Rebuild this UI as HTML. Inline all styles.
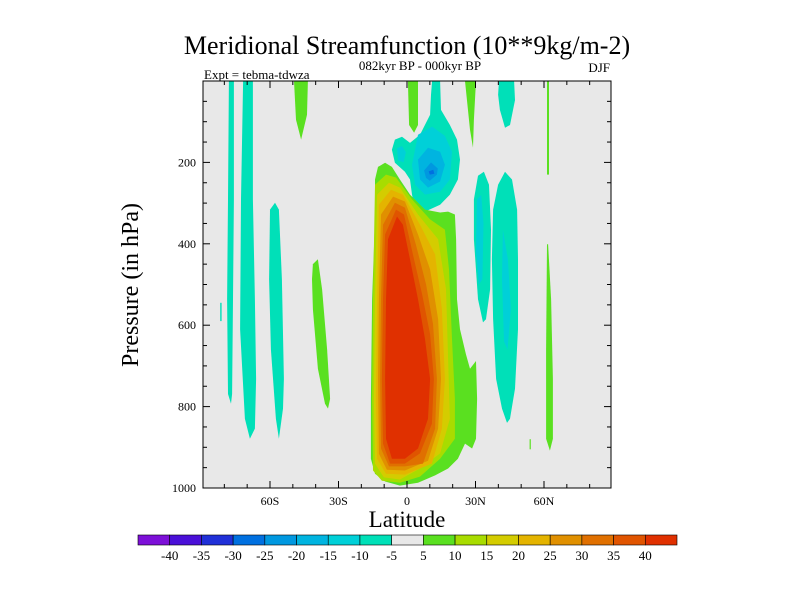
<!DOCTYPE html>
<html><head><meta charset="utf-8"><style>
html,body{margin:0;padding:0;background:#fff;}
svg{display:block;font-family:"Liberation Serif",serif;}
</style></head><body>
<svg id="chart" width="800" height="600" viewBox="0 0 800 600">
<text x="407" y="54" font-size="26" text-anchor="middle">Meridional Streamfunction (10**9kg/m-2)</text>
<text x="420" y="70" font-size="13" text-anchor="middle">082kyr BP - 000kyr BP</text>
<text x="204" y="79" font-size="13">Expt = tebma-tdwza</text>
<text x="610" y="72" font-size="13" text-anchor="end">DJF</text>
<rect x="203" y="81" width="408" height="407" fill="#e8e8e8"/>
<g id="contours"></g>
<g id="axes"></g>
<rect x="203" y="81" width="408" height="407" fill="none" stroke="#000" stroke-width="1"/>
<text x="407" y="527" font-size="23" text-anchor="middle">Latitude</text>
<text transform="translate(138,285) rotate(-90)" font-size="24" text-anchor="middle">Pressure (in hPa)</text>
<g id="colorbar"></g>
</svg>
<script>
const levelColors = ["#7d10d8","#4a10d8","#2030d8","#0070e0","#0098e0","#00b4e0","#00d0d8","#00e0b8","#e8e8e8","#5ae020","#a8dc00","#d4cc00","#e4b400","#e09000","#e07000","#e05400","#e03000"];
const colorbarLabels = ["-40","-35","-30","-25","-20","-15","-10","-5","5","10","15","20","25","30","35","40"];
const yTickValues = [200,400,600,800,1000];
const xTickValues = [-60,-30,0,30,60];
const xTickLabels = ["60S","30S","0","30N","60N"];
// contour regions: [level index, "lat,pressure ..."]
const contourLevels = [7,7,7,7,9,9,9,9,7,9,9,9,7,6,7,6,7,6,6,5,4,3,9,10,11,12,13,14,15,16];
const contourShapes = [
"-78,0 -75.8,0 -75.8,291 -76.2,536 -76.6,769 -77.1,793 -78.4,769 -78.8,536 -78.4,291",
"-81.8,545 -81.2,545 -81.2,590 -81.8,590",
"-71.8,0 -67.5,0 -67.5,291 -66.6,536 -66.1,732 -66.6,854 -68.8,879 -71,830 -73.1,610 -72.7,291",
"-60,316 -57.8,299 -56.1,316 -54.8,487 -53.9,732 -54.3,805 -56.1,879 -57.4,830 -59.6,659 -60.4,487",
"-49.5,0 -43.4,0 -43.8,83 -46.4,144 -48.6,95",
"-41.2,450 -39,438 -37.2,512 -35,659 -33.7,781 -34.6,805 -35.9,793 -39,707 -41.2,561 -41.6,487",
"0.4,0 4.8,0 4.8,108 3.1,127 0.9,108",
"25.4,0 30.2,0 29.3,95 28.9,164 27.6,120",
"40.3,0 46.9,0 47.3,47 45.1,108 42.9,115 40.7,71 39.9,34",
"61.3,0 62.2,0 62.2,230 61.3,230",
"61.3,401 61.8,401 63.1,536 63.9,732 63.9,879 62.6,908 60.9,879 60.9,659",
"53.7,880 54.2,880 54.2,905 53.7,905",
"31.1,233 33.7,223 35.9,255 36.8,365 36.4,512 34.6,585 33.3,593 31.1,536 29.3,389 29.3,291",
"30.6,291 32.5,280 33.5,350 33,487 31.5,500 30.2,420",
"42.9,223 46,242 48.2,316 48.6,438 48.6,610 47.3,756 45.1,830 43.8,840 41.6,805 39,732 37.7,585 37.2,438 37.7,316 39.9,255",
"42,365 44.2,438 45.5,560 44,660 42.5,640 41.6,487",
"11,0 14.5,0 14.9,71 18.8,108 21.9,144 23.2,193 22.3,242 18.8,279 14.5,304 7.9,321 3.5,316 2.2,279 1.3,242 -0.9,223 -5.3,201 -6.6,169 -5.3,144 -2.2,137 1.3,152 5.7,132 10.1,83 10.5,34",
"4.8,132 11,112 16.6,135 19.7,174 18.8,242 14.5,272 7.9,279 3.5,255 2.2,206",
"-4.4,165 -2.2,160 -0.5,175 -1.5,200 -3.9,195",
"4.8,193 9.2,164 14.5,174 16.6,206 14.5,247 9.2,262 5.7,242",
"7.5,220 10.5,200 13.5,215 13.1,230 10,245 8.3,238",
"9.5,222 11.5,218 12,228 10,230",
"-12.7,211 -9.6,201 -6.6,211 -3.1,242 1.3,279 7.9,316 14.5,323 18,321 21,328 21.5,389 21.9,536 23.2,610 25.8,671 27.6,707 30.2,688 30.7,781 30.2,879 28.5,903 25.4,891 22.3,928 18,952 12.3,969 4.8,987 -3.1,994 -9.6,984 -14,965 -15.8,928 -15.8,781 -15.3,536 -14,340 -14,242",
"-9.2,230 -4.8,237 2.2,291 10.1,340 16.6,365 18.4,463 19.7,634 21,781 21,879 14.5,928 5.7,972 -3.1,987 -11,982 -14.9,957 -15.3,781 -14.9,536 -14,255",
"-7.9,250 -3.1,262 4.8,328 13.6,389 17.1,511 18,683 18.8,830 14.5,915 5.7,952 -3.1,979 -10.1,974 -14,940 -14.5,781 -14,536 -13.1,279",
"-7,267 -1.8,279 5.7,353 12.3,426 15.3,561 16.6,732 15.3,854 10.9,940 -0.9,967 -9.2,965 -13.1,928 -13.6,781 -13.1,536 -12.3,304",
"-6.1,284 -0.9,296 4.8,377 10.1,463 13.6,585 14.9,732 13.6,854 9.2,933 -0.9,957 -8.8,955 -12.3,916 -12.7,732 -12.3,536 -11.4,328",
"-5.3,299 -0.9,311 3.9,402 8.3,499 11.4,597 13.1,732 12.3,854 7,940 -0.9,947 -7.9,947 -11.4,903 -11.8,732 -11.4,536 -10.5,353",
"-4.8,316 -1.3,328 2.6,426 6.6,524 10.1,622 11.8,732 10.9,842 5.7,915 -0.9,940 -7.4,940 -10.5,891 -11,732 -10.5,536 -9.6,377",
"-4.4,333 -1.8,353 1.3,438 4.8,536 7.9,634 10.1,732 9.2,830 4.8,903 -0.9,928 -6.6,928 -9.2,879 -9.6,732 -9.2,536 -8.3,389"
];
const NS="http://www.w3.org/2000/svg";
const X0=203,X1=611,Y0=81,Y1=488;
function xScale(lat){return 407+lat*68.5/30;}
function yScale(p){return Y0+p*(Y1-Y0)/1000;}
const cg=document.getElementById('contours');
contourShapes.forEach((s,i)=>{
  const pts=s.split(' ').map(q=>{const [a,b]=q.split(',').map(Number);return xScale(a).toFixed(1)+','+yScale(b).toFixed(1);}).join(' ');
  const pg=document.createElementNS(NS,'polygon');
  pg.setAttribute('points',pts);
  pg.setAttribute('fill',levelColors[contourLevels[i]]);
  
  
  cg.appendChild(pg);
});
const ag=document.getElementById('axes');
function line(x1,y1,x2,y2,name){
  const l=document.createElementNS(NS,'line');
  l.setAttribute('x1',x1);l.setAttribute('y1',y1);l.setAttribute('x2',x2);l.setAttribute('y2',y2);
  l.setAttribute('stroke','#000');l.setAttribute('stroke-width','1');
  
  
  ag.appendChild(l);
}
function text(x,y,s,anchor,name){
  const t=document.createElementNS(NS,'text');
  t.setAttribute('x',x);t.setAttribute('y',y);t.setAttribute('font-size','12');
  t.setAttribute('text-anchor',anchor);t.textContent=s;
  
  
  ag.appendChild(t);
}
for(let p=50;p<1000;p+=50){
  const y=yScale(p);const major=p%200===0;const len=major?7:4;
  line(X0,y,X0+len,y,'y-tick');
  line(X1,y,X1-len,y,'y-tick-right');
}
yTickValues.forEach(v=>text(196,yScale(v)+4,String(v),'end','y-tick-label'));
for(let lat=-80;lat<=80;lat+=10){
  const x=xScale(lat);const major=lat%30===0;const len=major?7:4;
  line(x,Y1,x,Y1-len,'x-tick');
  line(x,Y0,x,Y0+len,'x-tick-top');
}
xTickValues.forEach((v,i)=>text(xScale(v),505,xTickLabels[i],'middle','x-tick-label'));
const cb=document.getElementById('colorbar');
const cbX=138,cbW=539/levelColors.length;
levelColors.forEach((c,i)=>{
  const r=document.createElementNS(NS,'rect');
  r.setAttribute('x',cbX+i*cbW);r.setAttribute('y',535);r.setAttribute('width',cbW);r.setAttribute('height',10);
  r.setAttribute('fill',c);r.setAttribute('stroke','#000');r.setAttribute('stroke-width','0.6');
  
  
  cb.appendChild(r);
});
colorbarLabels.forEach((s,i)=>{
  const t=document.createElementNS(NS,'text');
  t.setAttribute('x',cbX+(i+1)*cbW);t.setAttribute('y',560);t.setAttribute('font-size','13');
  t.setAttribute('text-anchor','middle');t.textContent=s;
  
  
  cb.appendChild(t);
});
</script>
</body></html>
